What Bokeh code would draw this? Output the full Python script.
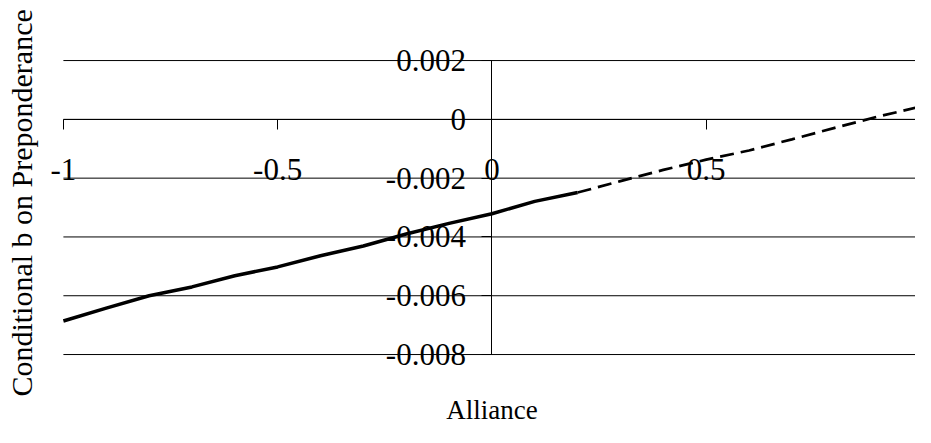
import math
from bokeh.plotting import figure
from bokeh.models import LinearAxis, FixedTicker, Range1d, Label
from bokeh.embed import file_html
from bokeh.resources import INLINE

# ---- data ----
solid_x = [-1.0, -0.9, -0.8, -0.7, -0.6, -0.5, -0.4, -0.3, -0.2, -0.1, 0.0, 0.1, 0.2]
solid_y = [-0.00686, -0.00642, -0.00600, -0.00570, -0.00532, -0.00502, -0.00464,
           -0.00431, -0.00390, -0.00354, -0.00321, -0.00279, -0.00249]
dash_x = [0.2, 0.3, 0.4, 0.5, 0.6, 0.7, 0.8, 0.9, 1.0]
dash_y = [-0.00249, -0.00210, -0.00172, -0.00137, -0.00106, -0.00068, -0.00029, 0.00009, 0.00043]
x_ticks = [-1, -0.5, 0, 0.5, 1]
y_ticks = [-0.008, -0.006, -0.004, -0.002, 0, 0.002]
x_tick_labels = {-1: "-1", -0.5: "-0.5", 0: "0", 0.5: "0.5", 1: "1"}
y_tick_labels = {-0.008: "-0.008", -0.006: "-0.006", -0.004: "-0.004",
                 -0.002: "-0.002", 0: "0", 0.002: "0.002"}
x_title = "Alliance"
y_title = "Conditional b on Preponderance"

FONT = "Liberation Serif"

W, H = 915, 427
REF_W, REF_H = 931.0, 443.0
# the frame covers the whole canvas; ranges are chosen so that the plot area
# (-1..1, -0.008..0.002) sits where it does in the reference layout
PX_X, X0 = 436.0, 500.0      # reference px per x unit, px of x=0
PX_Y, Y0 = 30500.0, 123.3    # reference px per y unit, px of y=0
x_start = (0 - X0) / PX_X
x_end = (REF_W - X0) / PX_X
y_end = Y0 / PX_Y
y_start = (Y0 - REF_H) / PX_Y

p = figure(width=W, height=H, output_backend="svg", toolbar_location=None,
           x_range=Range1d(x_start, x_end), y_range=Range1d(y_start, y_end),
           x_axis_type=None, y_axis_type=None,
           min_border=0, min_border_left=0, min_border_right=0,
           min_border_top=0, min_border_bottom=0)
p.outline_line_color = None
p.background_fill_color = "white"
p.border_fill_color = "white"
p.xgrid.visible = False
p.ygrid.visible = False

# horizontal gridlines across the plot area
p.segment(x0=[x_ticks[0]] * len(y_ticks), x1=[x_ticks[-1]] * len(y_ticks),
          y0=y_ticks, y1=y_ticks, line_color="black", line_width=1)

# axes crossing at the origin
xax = LinearAxis(fixed_location=0, ticker=FixedTicker(ticks=x_ticks),
                 major_label_overrides=x_tick_labels, bounds=(x_ticks[0], x_ticks[-1]))
yax = LinearAxis(fixed_location=0, ticker=FixedTicker(ticks=y_ticks),
                 major_label_overrides=y_tick_labels, bounds=(y_ticks[0], y_ticks[-1]))
for ax in (xax, yax):
    ax.axis_line_color = "black"
    ax.axis_line_width = 1
    ax.major_tick_line_color = "black"
    ax.major_tick_in = 0
    ax.major_tick_out = 10
    ax.minor_tick_line_color = None
    ax.major_label_text_font = FONT
    ax.major_label_text_font_size = "31px"
    ax.major_label_text_color = "black"
xax.major_label_standoff = 30
yax.major_label_standoff = 16
p.add_layout(xax, "below")
p.add_layout(yax, "left")

p.line(solid_x, solid_y, line_color="black", line_width=3.5)
p.line(dash_x, dash_y, line_color="black", line_width=2.7, line_dash="14 7")

# axis titles
p.add_layout(Label(x=0, y=(Y0 - 425.2) / PX_Y, text=x_title,
                   text_font=FONT, text_font_size="27px", text_color="black",
                   text_align="center", text_baseline="alphabetic"))
p.add_layout(Label(x=(21.1 - X0) / PX_X, y=(Y0 - 210.0) / PX_Y, text=y_title,
                   angle=math.pi / 2, text_font=FONT, text_font_size="30px",
                   text_color="black", text_align="center", text_baseline="alphabetic"))

open("out.html", "w").write(file_html(p, INLINE))
